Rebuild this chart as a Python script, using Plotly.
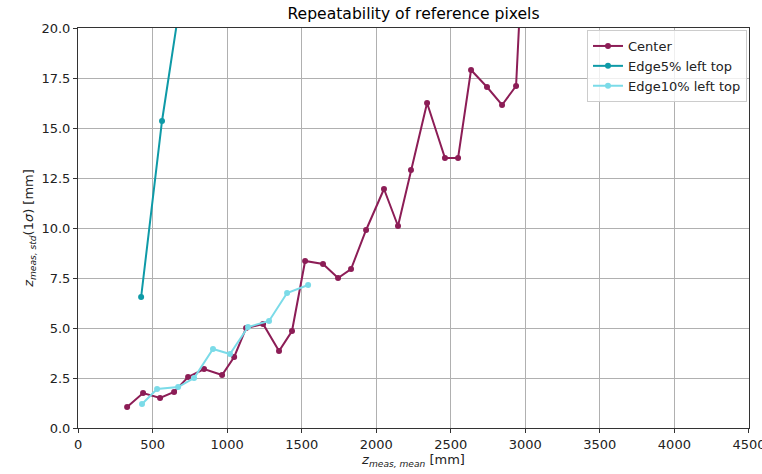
import plotly.graph_objects as go

center_x = [329, 436, 550, 644, 738, 845, 966, 1047, 1127, 1241, 1348, 1435, 1523, 1643, 1744, 1831, 1932, 2052, 2146, 2233, 2341, 2461, 2549, 2636, 2743, 2844, 2938, 2990]
center_y = [1.05, 1.75, 1.5, 1.8, 2.55, 2.95, 2.65, 3.55, 5.0, 5.2, 3.85, 4.85, 8.35, 8.2, 7.5, 7.95, 9.9, 11.95, 10.1, 12.9, 16.25, 13.5, 13.5, 17.9, 17.05, 16.15, 17.1, 25.0]

edge5_x = [423, 563, 760]
edge5_y = [6.55, 15.35, 25.0]

edge10_x = [429, 530, 671, 778, 905, 1019, 1140, 1281, 1402, 1543]
edge10_y = [1.2, 1.95, 2.05, 2.5, 3.95, 3.7, 5.05, 5.35, 6.75, 7.15]

x_ticks = [0, 500, 1000, 1500, 2000, 2500, 3000, 3500, 4000, 4500]
y_ticks = [0.0, 2.5, 5.0, 7.5, 10.0, 12.5, 15.0, 17.5, 20.0]

FONT = "DejaVu Sans"

fig = go.Figure()
for name, xs, ys, col in [
    ("Center", center_x, center_y, "#8c1d56"),
    ("Edge5% left top", edge5_x, edge5_y, "#0e9aa7"),
    ("Edge10% left top", edge10_x, edge10_y, "#7bdbe8"),
]:
    fig.add_trace(go.Scatter(
        x=xs, y=ys, name=name, mode="lines+markers",
        line=dict(color=col, width=2),
        marker=dict(color=col, size=6),
    ))

fig.update_layout(
    width=762, height=474,
    margin=dict(l=78, r=13, t=28, b=46, autoexpand=False),
    paper_bgcolor="white", plot_bgcolor="white",
    font=dict(family=FONT, size=13, color="#222"),
    title=dict(text="Repeatability of reference pixels", x=413.5 / 762, xanchor="center",
               y=1 - 14 / 474, yanchor="middle", font=dict(size=15.6, color="black")),
    legend=dict(x=0.997, y=0.995, xanchor="right", yanchor="top",
                bgcolor="rgba(255,255,255,0.8)", bordercolor="#cccccc", borderwidth=1,
                font=dict(size=13, color="#222"), itemwidth=30, tracegroupgap=0),
    showlegend=True,
)
fig.update_xaxes(
    range=[-0.5, 4500.5], tickvals=x_ticks, ticktext=[str(v) for v in x_ticks],
    showgrid=True, gridcolor="#b0b0b0", gridwidth=1,
    showline=True, linecolor="#333", linewidth=1, mirror=True,
    ticks="outside", ticklen=4, tickcolor="#333", zeroline=False, automargin=False,
    ticklabeloverflow="allow",
    title=dict(text="<i>z</i><sub><i>meas, mean</i></sub> [mm]", standoff=4, font=dict(size=13)),
)
fig.update_yaxes(
    range=[0, 20], tickvals=y_ticks, ticktext=[f"{v:.1f}" for v in y_ticks],
    showgrid=True, gridcolor="#b0b0b0", gridwidth=1,
    showline=True, linecolor="#333", linewidth=1, mirror=True,
    ticks="outside", ticklen=4, tickcolor="#333", zeroline=False, automargin=False,
    ticklabeloverflow="allow",
    title=dict(text="<i>z</i><sub><i>meas, std</i></sub>(1<i>σ</i>) [mm]", standoff=4, font=dict(size=13)),
)

fig.write_html("out.html", config={"displayModeBar": False},
               post_script="document.body.style.margin='0';document.body.style.overflow='hidden';")
